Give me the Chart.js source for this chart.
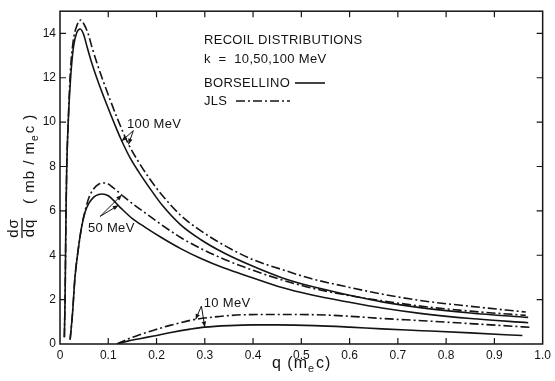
<!DOCTYPE html>
<html>
<head>
<meta charset="utf-8">
<script src="https://cdn.jsdelivr.net/npm/chart.js@4"></script>
<style>
  html, body { margin: 0; padding: 0; background: #fff; }
</style>
</head>
<body>
<canvas id="recoil-chart" width="555" height="381"></canvas>
<script>
"use strict"
// recoil distributions, k = 10, 50, 100 MeV (Borsellino solid, JLS dash-dot)

// axis ticks
const xTicks = [0, 0.1, 0.2, 0.3, 0.4, 0.5, 0.6, 0.7, 0.8, 0.9, 1.0];
const xTickLabels = ["0", "0.1", "0.2", "0.3", "0.4", "0.5", "0.6", "0.7", "0.8", "0.9", "1.0"];
const yTicks = [0, 2, 4, 6, 8, 10, 12, 14];
const yTickLabels = ["0", "2", "4", "6", "8", "10", "12", "14"];

// 100 MeV
const qBors100 = [0.009, 0.0105, 0.0115, 0.0125, 0.014, 0.017, 0.022, 0.028, 0.035, 0.042, 0.049, 0.056, 0.066, 0.076, 0.094, 0.118, 0.128, 0.145, 0.163, 0.19, 0.212, 0.25, 0.292, 0.34, 0.4, 0.458, 0.52, 0.6, 0.667, 0.75, 0.85, 0.97];
const vBors100 = [0.3, 2, 4, 6, 8, 10, 12, 13.4, 14.05, 14.2, 13.95, 13.4, 12.65, 12.0, 10.95, 9.65, 9.15, 8.4, 7.76, 6.9, 6.25, 5.37, 4.7, 4.1, 3.5, 3.0, 2.6, 2.2, 1.9, 1.63, 1.4, 1.2];
const qJls100 = [0.009, 0.0105, 0.0115, 0.0125, 0.014, 0.017, 0.021, 0.027, 0.035, 0.043, 0.05, 0.058, 0.066, 0.076, 0.087, 0.104, 0.12, 0.142, 0.163, 0.184, 0.21, 0.25, 0.292, 0.34, 0.4, 0.458, 0.52, 0.6, 0.667, 0.75, 0.85, 0.965];
const vJls100 = [0.3, 2, 4, 6, 8, 10, 12.1, 13.6, 14.35, 14.6, 14.4, 14.0, 13.4, 12.7, 12.0, 11.0, 10.1, 9.0, 8.2, 7.5, 6.75, 5.8, 5.1, 4.45, 3.8, 3.37, 2.95, 2.55, 2.25, 1.95, 1.7, 1.44];

// 50 MeV
const qBors50 = [0.021, 0.026, 0.031, 0.038, 0.045, 0.052, 0.06, 0.07, 0.08, 0.087, 0.1, 0.125, 0.15, 0.175, 0.21, 0.25, 0.292, 0.34, 0.4, 0.458, 0.52, 0.6, 0.667, 0.75, 0.85, 0.97];
const vBors50 = [0.2, 1.4, 3.0, 4.3, 5.3, 5.95, 6.35, 6.62, 6.74, 6.76, 6.68, 6.15, 5.65, 5.28, 4.8, 4.3, 3.85, 3.42, 2.98, 2.56, 2.22, 1.88, 1.62, 1.37, 1.15, 0.96];
const qJls50 = [0.021, 0.026, 0.031, 0.038, 0.045, 0.052, 0.06, 0.07, 0.08, 0.094, 0.11, 0.132, 0.155, 0.177, 0.21, 0.25, 0.292, 0.34, 0.4, 0.458, 0.52, 0.6, 0.667, 0.75, 0.85, 0.965];
const vJls50 = [0.2, 1.4, 3.0, 4.3, 5.3, 6.0, 6.6, 7.0, 7.2, 7.26, 7.05, 6.64, 6.25, 5.9, 5.38, 4.8, 4.3, 3.82, 3.32, 2.9, 2.53, 2.18, 1.95, 1.7, 1.48, 1.29];

// 10 MeV
const qBors10 = [0.118, 0.14, 0.165, 0.194, 0.23, 0.27, 0.3, 0.35, 0.4, 0.45, 0.528, 0.6, 0.667, 0.75, 0.85, 0.958];
const vBors10 = [0, 0.13, 0.24, 0.36, 0.52, 0.67, 0.76, 0.83, 0.86, 0.86, 0.83, 0.76, 0.68, 0.6, 0.5, 0.38];
const qJls10 = [0.118, 0.14, 0.165, 0.194, 0.23, 0.278, 0.33, 0.382, 0.45, 0.528, 0.6, 0.667, 0.75, 0.85, 0.975];
const vJls10 = [0, 0.22, 0.42, 0.62, 0.85, 1.1, 1.24, 1.32, 1.33, 1.32, 1.25, 1.15, 1.05, 0.92, 0.75];

// curve labels and their arrows, in data units
const curveLabels = [
    { text: "100 MeV", q: 0.139, v: 9.88, tail: [0.152, 9.62], tips: [[0.128, 9.15], [0.142, 9.0]] },
    { text: "50 MeV", q: 0.058, v: 5.22, tail: [0.083, 5.75], tips: [[0.121, 6.25], [0.128, 6.72]] },
    { text: "10 MeV", q: 0.298, v: 1.83, tail: [0.293, 1.71], tips: [[0.281, 1.11], [0.3, 0.76]] },
];

const ink = "#141414";
const dashDot = [9, 3, 2, 3];
const fontFamily = "'Liberation Sans', Arial, sans-serif";

const toPoints = (qs, vs) => qs.map((q, i) => ({ x: q, y: vs[i] }));

const curve = (qs, vs, dashed) => ({
    data: toPoints(qs, vs),
    borderColor: ink,
    borderWidth: 1.6,
    borderDash: dashed ? dashDot : [],
    pointRadius: 0,
    fill: false,
    cubicInterpolationMode: "monotone",
});

// draw text pieces one after another, some as subscripts
const drawParts = (ctx, parts, x, y, size) => {
    parts.forEach(p => {
        const s = p.sub ? size * 0.68 : size;
        ctx.font = s + "px " + fontFamily;
        ctx.fillText(p.t, x, y + (p.sub ? size * 0.28 : 0));
        x += ctx.measureText(p.t).width + (p.gap || 0);
    });
};

const arrow = (ctx, x0, y0, x1, y1) => {
    const a = Math.atan2(y1 - y0, x1 - x0);
    ctx.beginPath();
    ctx.moveTo(x0, y0);
    ctx.lineTo(x1, y1);
    ctx.stroke();
    ctx.beginPath();
    ctx.moveTo(x1, y1);
    ctx.lineTo(x1 - 6 * Math.cos(a - 0.38), y1 - 6 * Math.sin(a - 0.38));
    ctx.lineTo(x1 - 6 * Math.cos(a + 0.38), y1 - 6 * Math.sin(a + 0.38));
    ctx.closePath();
    ctx.fill();
};

// frame, inward ticks, key text, arrows and axis titles
const notesPlugin = {
    id: "notes",
    beforeDraw: (chart) => {
        const ctx = chart.ctx;
        ctx.save();
        ctx.fillStyle = "#fff";
        ctx.fillRect(0, 0, chart.width, chart.height);
        ctx.restore();
    },
    afterDraw: (chart) => {
        const ctx = chart.ctx;
        const area = chart.chartArea;
        const xs = chart.scales.x;
        const ys = chart.scales.y;
        ctx.save();
        ctx.strokeStyle = ink;
        ctx.fillStyle = ink;
        ctx.lineWidth = 1.5;
        ctx.strokeRect(area.left, area.top, area.right - area.left, area.bottom - area.top);

        ctx.lineWidth = 1.2;
        ctx.beginPath();
        xTicks.forEach(v => {
            if (v <= 0 || v >= 1) return;
            const px = xs.getPixelForValue(v);
            ctx.moveTo(px, area.bottom); ctx.lineTo(px, area.bottom - 6);
            ctx.moveTo(px, area.top); ctx.lineTo(px, area.top + 6);
        });
        yTicks.forEach(v => {
            if (v <= 0) return;
            const py = ys.getPixelForValue(v);
            ctx.moveTo(area.left, py); ctx.lineTo(area.left + 6, py);
            ctx.moveTo(area.right, py); ctx.lineTo(area.right - 6, py);
        });
        ctx.stroke();

        // key block
        ctx.textBaseline = "middle";
        ctx.textAlign = "left";
        ctx.letterSpacing = "0.3px";
        ctx.font = "13px " + fontFamily;
        ctx.fillText("RECOIL DISTRIBUTIONS", 204, 40);
        ctx.fillText("k  =  10,50,100 MeV", 204, 59);
        ctx.fillText("BORSELLINO", 204, 83);
        ctx.fillText("JLS", 204, 101);
        ctx.lineWidth = 1.6;
        ctx.beginPath();
        ctx.moveTo(295, 83); ctx.lineTo(325, 83);
        ctx.stroke();
        ctx.setLineDash(dashDot);
        ctx.beginPath();
        ctx.moveTo(236, 101); ctx.lineTo(290, 101);
        ctx.stroke();
        ctx.setLineDash([]);

        // curve labels
        ctx.lineWidth = 1;
        curveLabels.forEach(c => {
            ctx.font = "13px " + fontFamily;
            ctx.fillText(c.text, xs.getPixelForValue(c.q), ys.getPixelForValue(c.v));
            const tx = xs.getPixelForValue(c.tail[0]);
            const ty = ys.getPixelForValue(c.tail[1]);
            c.tips.forEach(t => arrow(ctx, tx, ty, xs.getPixelForValue(t[0]), ys.getPixelForValue(t[1])));
        });
        ctx.letterSpacing = "0px";

        // x title
        ctx.textBaseline = "alphabetic";
        ctx.letterSpacing = "1px";
        drawParts(ctx, [{ t: "q (m" }, { t: "e", sub: true, gap: 1 }, { t: "c)" }], 272, 368, 16);

        // y title, rotated
        ctx.save();
        ctx.translate(22, 228);
        ctx.rotate(-Math.PI / 2);
        ctx.font = "15px " + fontFamily;
        ctx.textAlign = "center";
        ctx.fillText("dσ", 0, -4);
        ctx.fillText("dq", 0, 12);
        ctx.lineWidth = 1.3;
        ctx.beginPath();
        ctx.moveTo(-10, 0); ctx.lineTo(10, 0);
        ctx.stroke();
        ctx.textAlign = "left";
        drawParts(ctx, [{ t: "( mb / m" }, { t: "e", sub: true, gap: 1 }, { t: "c )" }], 24, 12, 15);
        ctx.restore();

        ctx.restore();
    },
};

const ctx = document.getElementById("recoil-chart");

new Chart(ctx, {
    type: "line",
    data: {
        datasets: [
            curve(qBors100, vBors100, false),
            curve(qJls100, vJls100, true),
            curve(qBors50, vBors50, false),
            curve(qJls50, vJls50, true),
            curve(qBors10, vBors10, false),
            curve(qJls10, vJls10, true),
        ]
    },
    options: {
        responsive: false,
        animation: false,
        layout: { padding: { top: 8, right: 9, left: 0, bottom: 0 } },
        plugins: {
            legend: { display: false },
            tooltip: { enabled: false },
        },
        scales: {
            x: {
                type: "linear",
                min: 0,
                max: 1,
                grid: { display: false, drawTicks: false },
                border: { display: false },
                ticks: {
                    padding: 4,
                    color: ink,
                    autoSkip: false,
                    maxRotation: 0,
                    font: { family: fontFamily, size: 12 },
                    callback: (v, i) => xTickLabels[i],
                },
                afterBuildTicks: (axis) => { axis.ticks = xTicks.map(v => ({ value: v })); },
                afterFit: (axis) => { axis.height = 37; },
            },
            y: {
                type: "linear",
                min: 0,
                max: 15,
                grid: { display: false, drawTicks: false },
                border: { display: false },
                ticks: {
                    padding: 4,
                    color: ink,
                    autoSkip: false,
                    font: { family: fontFamily, size: 12 },
                    callback: (v, i) => yTickLabels[i],
                },
                afterBuildTicks: (axis) => { axis.ticks = yTicks.map(v => ({ value: v })); },
                afterFit: (axis) => { axis.width = 60; },
            },
        },
    },
    plugins: [notesPlugin],
});
</script>
</body>
</html>
